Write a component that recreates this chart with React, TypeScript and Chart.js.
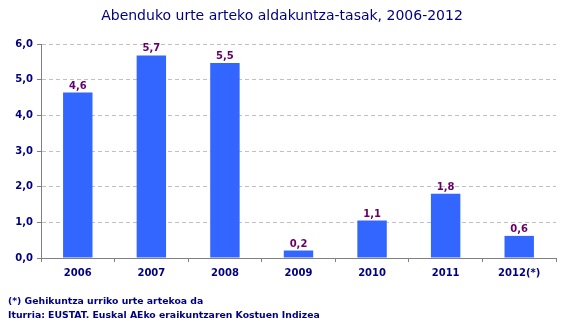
import React, { useEffect, useRef } from "react";
import { Chart, registerables } from "chart.js";

Chart.register(...registerables);

const categories = ["2006", "2007", "2008", "2009", "2010", "2011", "2012(*)"];
const values = [4.64, 5.68, 5.47, 0.21, 1.05, 1.8, 0.62];
const labels = ["4,6", "5,7", "5,5", "0,2", "1,1", "1,8", "0,6"];
const yTicks = [0, 1, 2, 3, 4, 5, 6];
const title = "Abenduko urte arteko aldakuntza-tasak, 2006-2012";
const notes = [
  "(*) Gehikuntza urriko urte artekoa da",
  "Iturria: EUSTAT. Euskal AEko eraikuntzaren Kostuen Indizea",
];

const NAVY = "#000080";
const FONT = "'DejaVu Sans', Verdana, sans-serif";

const extras = {
  id: "extras",
  afterDatasetsDraw(chart: any) {
    const ctx = chart.ctx;
    ctx.save();
    // title
    ctx.fillStyle = NAVY;
    ctx.font = `14px ${FONT}`;
    ctx.textAlign = "center";
    ctx.textBaseline = "middle";
    ctx.fillText(title, 282, 16);
    // data labels
    const meta = chart.getDatasetMeta(0);
    ctx.fillStyle = "#660066";
    ctx.font = `bold 10px ${FONT}`;
    ctx.textBaseline = "alphabetic";
    meta.data.forEach((bar: any, i: number) => {
      ctx.fillText(labels[i], bar.x, bar.y - 4);
    });
    // footnotes
    ctx.fillStyle = NAVY;
    ctx.font = `bold 9.3px ${FONT}`;
    ctx.textAlign = "left";
    ctx.textBaseline = "middle";
    notes.forEach((n, i) => ctx.fillText(n, 8, 302 + i * 14));
    ctx.restore();
  },
};

export default function App() {
  const ref = useRef<HTMLCanvasElement>(null);
  useEffect(() => {
    document.body.style.margin = "0";
    const chart = new Chart(ref.current!, {
      type: "bar",
      data: {
        labels: categories,
        datasets: [
          {
            data: values,
            backgroundColor: "#3366FF",
            borderWidth: 0,
            barPercentage: 0.4,
            categoryPercentage: 1,
          },
        ],
      },
      options: {
        animation: false,
        responsive: false,
        devicePixelRatio: 1,
        layout: { padding: { left: 0, top: 44, right: 12, bottom: 48 } },
        plugins: { legend: { display: false }, tooltip: { enabled: false }, title: { display: false } },
        scales: {
          x: {
            afterFit: (s: any) => {
              s.height = 30;
            },
            grid: {
              offset: true,
              drawOnChartArea: false,
              drawTicks: true,
              tickLength: 4,
              color: "#808080",
            },
            border: { color: "#808080" },
            ticks: {
              color: NAVY,
              font: { family: FONT, size: 10, weight: "bold" },
              padding: 5,
              maxRotation: 0,
            },
          },
          y: {
            min: 0,
            max: 6,
            afterFit: (s: any) => {
              s.width = 41;
            },
            afterBuildTicks: (s: any) => {
              s.ticks = yTicks.map((v) => ({ value: v }));
            },
            grid: {
              color: "#C0C0C0",
              tickColor: "#808080",
              tickLength: 4,
            },
            border: { color: "#808080", dash: [4, 3] },
            ticks: {
              color: NAVY,
              font: { family: FONT, size: 10, weight: "bold" },
              padding: 4,
              callback: (v: any) => Number(v).toFixed(1).replace(".", ","),
            },
          },
        },
      } as any,
      plugins: [extras],
    });
    return () => chart.destroy();
  }, []);
  return <canvas ref={ref} width={568} height={336} style={{ display: "block" }} />;
}
